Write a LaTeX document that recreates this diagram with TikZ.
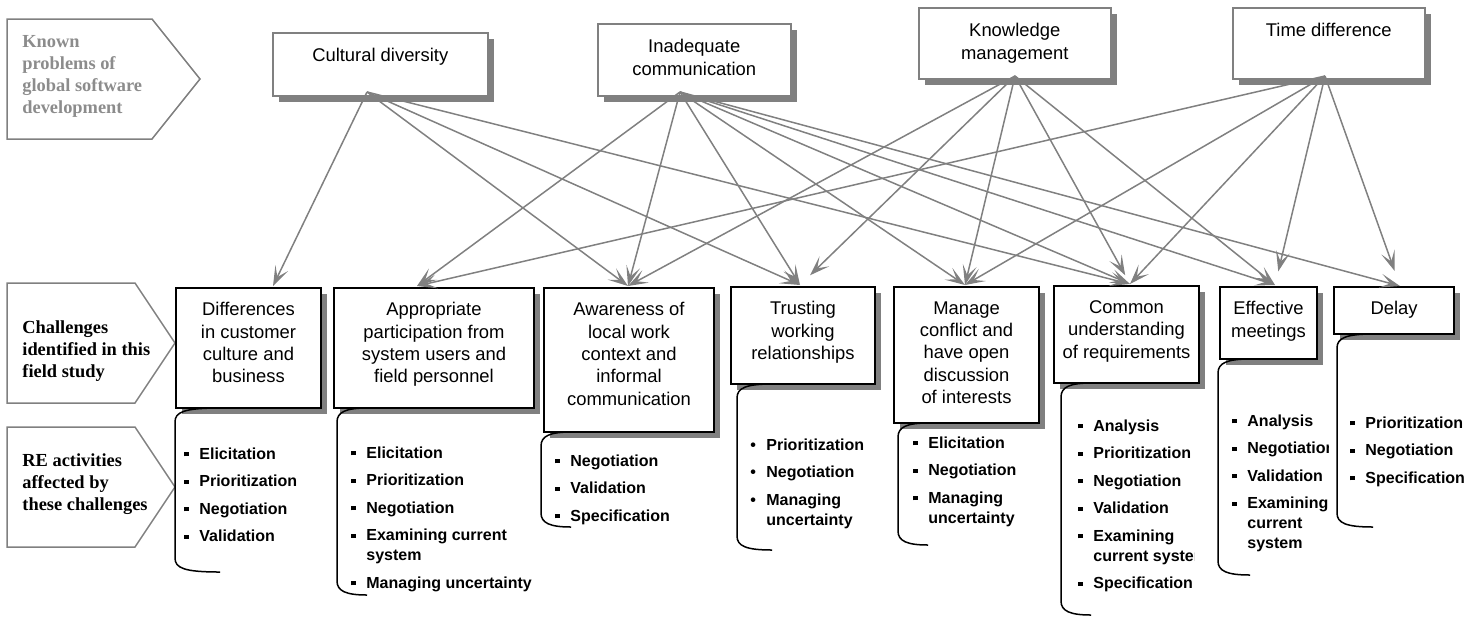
\documentclass[tikz,border=0pt]{standalone}
\usepackage{fontspec}
\setmainfont{Liberation Serif}
\setsansfont{Liberation Sans}
\usepackage{tikz}
\usetikzlibrary{arrows.meta,shadows}

\definecolor{linegray}{RGB}{128,128,128}
\definecolor{labelgray}{RGB}{140,140,140}

\newcommand{\sqb}{\makebox[7.5pt][l]{\rule[1.5pt]{2.2pt}{2.2pt}}}
\newcommand{\rdb}{\makebox[8pt][l]{\textbullet}}
\newcommand{\cnt}{\hspace*{7.5pt}}
\newcommand{\rcnt}{\hspace*{8pt}}

\begin{document}
\begin{tikzpicture}[x=0.5pt,y=-0.5pt,
    problem/.style={draw=linegray, line width=0.75pt, fill=white, inner sep=0pt, anchor=north west,
        general shadow={shadow xshift=3pt, shadow yshift=-3pt, fill=linegray}},
    challenge/.style={draw=black, line width=1pt, fill=white, inner sep=0pt, anchor=north west,
        general shadow={shadow xshift=3pt, shadow yshift=-3pt, fill=linegray}},
    boxtext/.style={anchor=north, inner sep=0pt, align=center, font=\sffamily\fontsize{9.2}{11.2}\selectfont},
    side/.style={draw=linegray, line width=0.75pt},
    sidetext/.style={anchor=north west, inner sep=0pt, align=left, font=\bfseries\fontsize{9.2}{11}\selectfont},
    acts/.style={anchor=north west, inner sep=0pt, font=\sffamily\bfseries\fontsize{8}{10}\selectfont},
    brace/.style={draw=black, line width=0.75pt},
    link/.style={draw=linegray, line width=0.75pt, -{Stealth[length=10pt,width=7pt,inset=5pt]}}]

\useasboundingbox (0,0) rectangle (1481,617);

% left side labels
\draw[side] (7,19) -- (152,19) -- (200,79) -- (152,139) -- (7,139) -- cycle;
\draw[side] (7,283) -- (135,283) -- (175,343) -- (135,403) -- (7,403) -- cycle;
\draw[side] (7,427) -- (135,427) -- (175,487) -- (135,547) -- (7,547) -- cycle;
\node[sidetext, text=labelgray] (knownside) at (22,35) {Known\\problems of\\global software\\development};
\node[sidetext] (chalside) at (22,320) {Challenges\\identified in this\\field study};
\node[sidetext] (reside) at (22,453) {RE activities\\affected by\\these challenges};

% known problems
\node[problem, minimum width=107.5pt, minimum height=31.5pt] (cult) at (272,32) {};
\node[problem, minimum width=96.5pt, minimum height=36pt] (inad) at (597,23) {};
\node[problem, minimum width=96pt, minimum height=35.5pt] (know) at (918,7) {};
\node[problem, minimum width=96pt, minimum height=35.5pt] (time) at (1232,7) {};
\node[boxtext] (culttxt) at ([yshift=-8pt]cult.north) {Cultural diversity};
\node[boxtext] (inadtxt) at ([yshift=-8pt]inad.north) {Inadequate\\communication};
\node[boxtext] (knowtxt) at ([yshift=-8pt]know.north) {Knowledge\\management};
\node[boxtext] (timetxt) at ([yshift=-8pt]time.north) {Time difference};

% challenges
\node[challenge, minimum width=72.5pt, minimum height=60pt] (diff) at (175,287) {};
\node[challenge, minimum width=100pt, minimum height=60pt] (appr) at (333,287) {};
\node[challenge, minimum width=85pt, minimum height=72pt] (aware) at (543,287) {};
\node[challenge, minimum width=72pt, minimum height=48.5pt] (trust) at (730,286) {};
\node[challenge, minimum width=72.5pt, minimum height=68pt] (manage) at (893,286) {};
\node[challenge, minimum width=72.5pt, minimum height=48.5pt] (common) at (1053,285) {};
\node[challenge, minimum width=48.5pt, minimum height=36pt] (effect) at (1219,286) {};
\node[challenge, minimum width=60pt, minimum height=23.5pt] (delay) at (1333,286) {};
\node[boxtext] (difftxt) at ([yshift=-7.5pt]diff.north) {Differences\\in customer\\culture and\\business};
\node[boxtext] (apprtxt) at ([yshift=-7.5pt]appr.north) {Appropriate\\participation from\\system users and\\field personnel};
\node[boxtext] (awaretxt) at ([yshift=-7.5pt]aware.north) {Awareness of\\local work\\context and\\informal\\communication};
\node[boxtext] (trusttxt) at ([yshift=-7.5pt]trust.north) {Trusting\\working\\relationships};
\node[boxtext] (managetxt) at ([yshift=-7.5pt]manage.north) {Manage\\conflict and\\have open\\discussion\\of interests};
\node[boxtext] (commontxt) at ([yshift=-7.5pt]common.north) {Common\\understanding\\of requirements};
\node[boxtext] (effecttxt) at ([yshift=-7.5pt]effect.north) {Effective\\meetings};
\node[boxtext] (delaytxt) at ([yshift=-7.5pt]delay.north) {Delay};

% RE activities
\draw[brace] (220,408) .. controls (184,408) and (175,412) .. (175,422) -- (175,558) .. controls (175,568) and (184,572) .. (220,572);
\draw[brace] (367,408) .. controls (346,408) and (337,412) .. (337,422) -- (337,581) .. controls (337,591) and (346,595) .. (367,595);
\draw[brace] (571,432) .. controls (550,432) and (541,436) .. (541,446) -- (541,513) .. controls (541,523) and (550,527) .. (571,527);
\draw[brace] (772,384) .. controls (746,384) and (737,388) .. (737,398) -- (737,536) .. controls (737,546) and (746,550) .. (772,550);
\draw[brace] (928,423) .. controls (907,423) and (898,427) .. (898,437) -- (898,531) .. controls (898,541) and (907,545) .. (928,545);
\draw[brace] (1091,383) .. controls (1070,383) and (1061,387) .. (1061,397) -- (1061,601) .. controls (1061,611) and (1070,615) .. (1091,615);
\draw[brace] (1250,359) .. controls (1227,359) and (1218,363) .. (1218,373) -- (1218,561) .. controls (1218,571) and (1227,575) .. (1250,575);
\draw[brace] (1373,334) .. controls (1346,334) and (1337,338) .. (1337,348) -- (1337,513) .. controls (1337,523) and (1346,527) .. (1373,527);

\node[acts] (diffacts) at (184,445) {\begin{tabular}[t]{@{}l@{}}\sqb Elicitation\\[3.75pt] \sqb Prioritization\\[3.75pt] \sqb Negotiation\\[3.75pt] \sqb Validation\end{tabular}};
\node[acts] (appracts) at (351,444) {\begin{tabular}[t]{@{}l@{}}\sqb Elicitation\\[3.75pt] \sqb Prioritization\\[3.75pt] \sqb Negotiation\\[3.75pt] \sqb Examining current\\ \cnt system\\[3.75pt] \sqb Managing uncertainty\end{tabular}};
\node[acts] (awareacts) at (555,452) {\begin{tabular}[t]{@{}l@{}}\sqb Negotiation\\[3.75pt] \sqb Validation\\[3.75pt] \sqb Specification\end{tabular}};
\node[acts] (trustacts) at (750,436) {\begin{tabular}[t]{@{}l@{}}\rdb Prioritization\\[3.75pt] \rdb Negotiation\\[3.75pt] \rdb Managing\\ \rcnt uncertainty\end{tabular}};
\node[acts] (manageacts) at (913,434) {\begin{tabular}[t]{@{}l@{}}\sqb Elicitation\\[3.75pt] \sqb Negotiation\\[3.75pt] \sqb Managing\\ \cnt uncertainty\end{tabular}};
\begin{scope}
\clip (1055,380) rectangle (1194,617);
\node[acts] (commonacts) at (1078,417) {\begin{tabular}[t]{@{}l@{}}\sqb Analysis\\[3.75pt] \sqb Prioritization\\[3.75pt] \sqb Negotiation\\[3.75pt] \sqb Validation\\[3.75pt] \sqb Examining\\ \cnt current system\\[3.75pt] \sqb Specification\end{tabular}};
\end{scope}
\begin{scope}
\clip (1212,355) rectangle (1328,617);
\node[acts] (effectacts) at (1232,412) {\begin{tabular}[t]{@{}l@{}}\sqb Analysis\\[3.75pt] \sqb Negotiation\\[3.75pt] \sqb Validation\\[3.75pt] \sqb Examining\\ \cnt current\\ \cnt system\end{tabular}};
\end{scope}
\node[acts] (delayacts) at (1350,414) {\begin{tabular}[t]{@{}l@{}}\sqb Prioritization\\[3.75pt] \sqb Negotiation\\[3.75pt] \sqb Specification\end{tabular}};

% connectors
\coordinate (cultO) at (367,92);
\coordinate (inadO) at (680,92);
\coordinate (knowO) at (1015,76);
\coordinate (timeO) at (1325,76);
\coordinate (diffI) at (273,286);
\coordinate (apprI) at (417,286);
\coordinate (awareI) at (628,286);
\coordinate (trustI) at (800,285);
\coordinate (manageI) at (965,285);
\coordinate (commonI) at (1130,284);
\coordinate (effectI) at (1275,285);
\coordinate (delayI) at (1400,286);

\draw[link] (cultO) -- (diffI);
\draw[link] (cultO) -- (awareI);
\draw[link] (cultO) -- (trustI);
\draw[link] (cultO) -- (commonI);
\draw[link] (inadO) -- (apprI);
\draw[link] (inadO) -- (awareI);
\draw[link] (inadO) -- (trustI);
\draw[link] (inadO) -- (manageI);
\draw[link] (inadO) -- (commonI);
\draw[link] (inadO) -- (effectI);
\draw[link] (inadO) -- (delayI);
\draw[link] (knowO) -- (awareI);
\draw[link, shorten >=7pt] (knowO) -- (trustI);
\draw[link] (knowO) -- (manageI);
\draw[link, shorten >=5pt] (knowO) -- (commonI);
\draw[link] (knowO) -- (effectI);
\draw[link] (timeO) -- (apprI);
\draw[link] (timeO) -- (manageI);
\draw[link] (timeO) -- (commonI);
\draw[link, shorten >=7pt] (timeO) -- (effectI);
\draw[link, shorten >=8pt] (timeO) -- (delayI);

\end{tikzpicture}
\end{document}
